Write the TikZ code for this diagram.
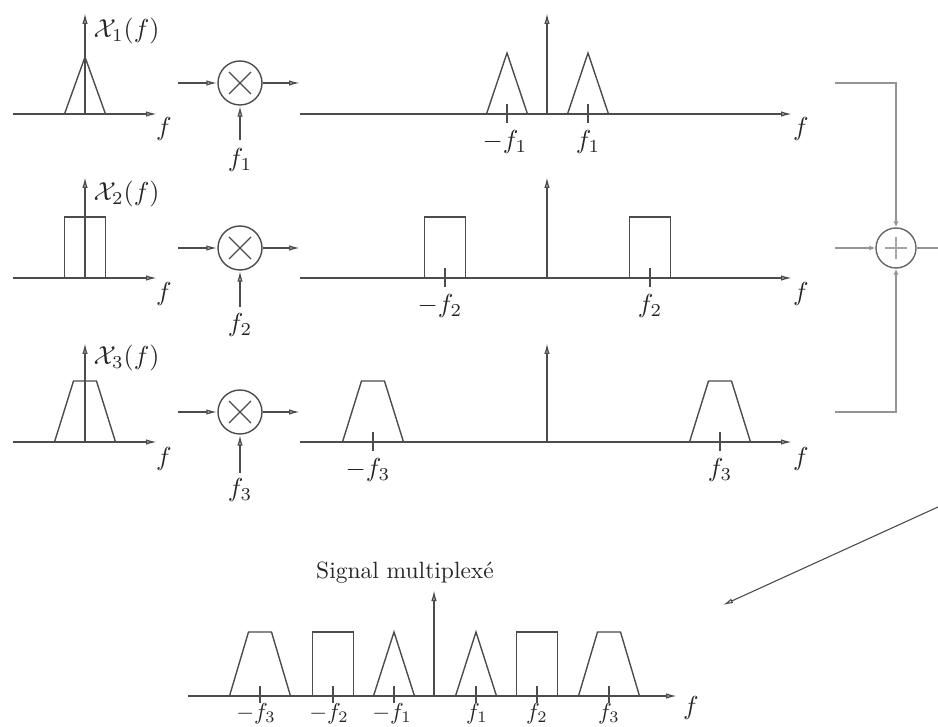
\documentclass[tikz,border=0pt]{standalone}
\usetikzlibrary{arrows.meta}
\newcommand\mytri[3]{\draw[ln] (#1-20.5,#2) -- (#1,#2-#3) -- (#1+20.5,#2);}
\newcommand\myrect[3]{\draw[ln] (#1-20.5,#2) -- (#1-20.5,#2-#3) -- (#1+20.5,#2-#3) -- (#1+20.5,#2);}
\newcommand\mytrap[3]{\draw[ln] (#1-30.5,#2) -- (#1-11.5,#2-#3) -- (#1+11.5,#2-#3) -- (#1+30.5,#2);}
\newcommand\mytick[3]{\draw[ln] (#1,#2-10) -- (#1,#2+#3);}
\begin{document}
\begin{tikzpicture}[x=1pt,y=-1pt,
  every node/.style={inner sep=0pt},
  lab/.style={scale=2.6, transform shape, text=black!85},
  blab/.style={scale=2.3, transform shape, text=black!85, anchor=base},
  ttl/.style={scale=2.35, transform shape, text=black!85},
  ln/.style={draw=black!70, line width=1.4pt},
  lt/.style={draw=black!42, line width=1.6pt},
  arr/.style={ln, -{Latex[open,length=11pt,width=5.5pt]}},
  arrt/.style={lt, -{Latex[open,length=6pt,width=5pt]}},
  mult/.style={circle, draw=black!70, line width=1.4pt, minimum size=44pt,
    path picture={\draw[black!70, line width=1.3pt]
      ([shift={(-11pt,-11pt)}]path picture bounding box.center) -- ([shift={(11pt,11pt)}]path picture bounding box.center)
      ([shift={(-11pt,11pt)}]path picture bounding box.center) -- ([shift={(11pt,-11pt)}]path picture bounding box.center);}},
  addr/.style={circle, draw=black!60, line width=1.4pt, minimum size=40pt,
    path picture={\draw[black!35, line width=1.6pt]
      ([shift={(-11pt,0pt)}]path picture bounding box.center) -- ([shift={(11pt,0pt)}]path picture bounding box.center)
      ([shift={(0pt,-11pt)}]path picture bounding box.center) -- ([shift={(0pt,11pt)}]path picture bounding box.center);}}
]
\useasboundingbox (0,0) rectangle (938,727);

% ---------- left input spectra ----------
\foreach \ay/\top in {114/13, 278/177, 442/343}{
  \draw[arr] (13,\ay) -- (157,\ay);
  \draw[arr] (85,\ay) -- (85,\top);
}
\mytri{85}{114}{57}
\myrect{85}{278}{61}
\mytrap{85}{442}{61}
\node[lab,anchor=west] (lx1) at (93,31) {$\mathcal{X}_1(f)$};
\node[lab,anchor=west] (lx2) at (93,194) {$\mathcal{X}_2(f)$};
\node[lab,anchor=west] (lx3) at (93,358) {$\mathcal{X}_3(f)$};
\node[lab] (lf1) at (164,129) {$f$};
\node[lab] (lf2) at (164,294) {$f$};
\node[lab] (lf3) at (164,459) {$f$};

% ---------- multipliers ----------
\node[mult] (m1) at (240,83) {};
\node[mult] (m2) at (240,248) {};
\node[mult] (m3) at (240,412) {};
\foreach \i/\y/\yb in {1/83/140, 2/248/307, 3/412/473}{
  \coordinate (mi\i) at (178,\y);
  \coordinate (mo\i) at (300,\y);
  \coordinate (mb\i) at (240,\yb);
  \draw[arr] (mi\i) -- (m\i.west);
  \draw[arr] (m\i.east) -- (mo\i);
  \draw[arr] (mb\i) -- (m\i.south);
}
\node[lab] (fm1) at (240,160) {$f_1$};
\node[lab] (fm2) at (240,325) {$f_2$};
\node[lab] (fm3) at (240,490) {$f_3$};

% ---------- shifted spectra ----------
\foreach \ay/\top in {114/13, 278/177, 442/343}{
  \draw[arr] (300,\ay) -- (792,\ay);
  \draw[arr] (547,\ay) -- (547,\top);
}
\mytri{507}{114}{61} \mytri{588}{114}{61}
\mytick{507}{114}{9} \mytick{588}{114}{9}
\node[lab] (a1) at (505,142) {$-f_1$};
\node[lab] (b1) at (588,142) {$f_1$};
\myrect{445}{278}{61} \myrect{650}{278}{61}
\mytick{445}{278}{9} \mytick{650}{278}{9}
\node[lab] (a2) at (440,306) {$-f_2$};
\node[lab] (b2) at (650,306) {$f_2$};
\mytrap{373}{442}{61} \mytrap{720}{442}{61}
\mytick{373}{442}{9} \mytick{720}{442}{9}
\node[lab] (a3) at (368,470) {$-f_3$};
\node[lab] (b3) at (720,470) {$f_3$};
\node[lab] (rf1) at (801,129) {$f$};
\node[lab] (rf2) at (801,294) {$f$};
\node[lab] (rf3) at (801,459) {$f$};

% ---------- adder ----------
\node[addr] (add) at (896,248) {};
\coordinate (s1) at (835,83);
\coordinate (s2) at (835,248);
\coordinate (s3) at (835,412);
\coordinate (sout) at (938,248);
\draw[arrt] (s1) -| (add.north);
\draw[arrt] (s3) -| (add.south);
\draw[arrt] (s2) -- (add.west);
\draw[lt] (add.east) -- (sout);

% ---------- diagonal arrow ----------
\coordinate (d1) at (938,507);
\coordinate (d2) at (723,605);
\draw[black!70, line width=1.1pt, -{Latex[open,length=10pt,width=5pt]}] (d1) -- (d2);

% ---------- multiplexed spectrum ----------
\node[ttl] (title) at (405,573) {Signal multiplexé};
\draw[arr] (188,696) -- (677,696);
\draw[arr] (434,696) -- (434,590);
\mytrap{260}{696}{64}
\myrect{333}{696}{64}
\mytri{394}{696}{64}
\mytri{476}{696}{64}
\myrect{537}{696}{64}
\mytrap{609}{696}{64}
\foreach \x in {260,333,394,476,537,609}{\mytick{\x}{696}{7}}
\node[blab] (c1) at (256,719) {$-f_3$};
\node[blab] (c2) at (329,719) {$-f_2$};
\node[blab] (c3) at (392,719) {$-f_1$};
\node[blab] (c4) at (477,719) {$f_1$};
\node[blab] (c5) at (537,719) {$f_2$};
\node[blab] (c6) at (609,719) {$f_3$};
\node[lab] (cf) at (691,708) {$f$};
\end{tikzpicture}
\end{document}
